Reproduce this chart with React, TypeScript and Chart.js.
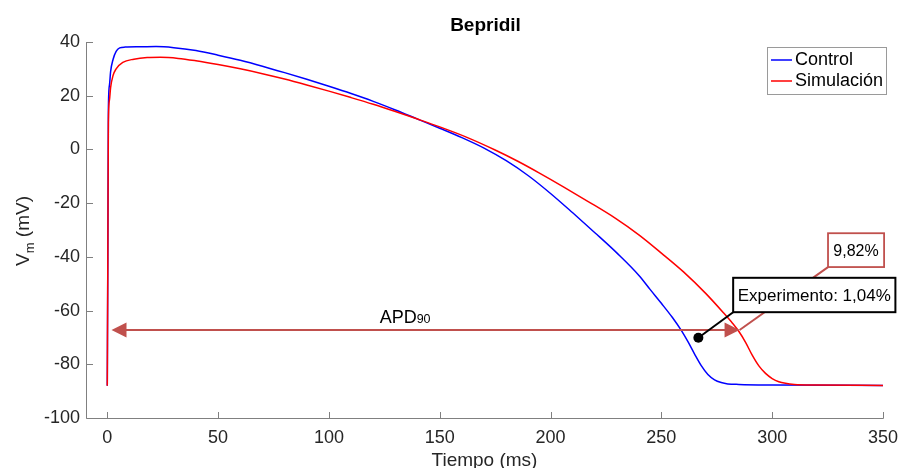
import React, { useEffect, useRef } from 'react';
import { Chart, registerables } from 'chart.js';

Chart.register(...registerables);

// ---------- data ----------
const chartTitle = 'Bepridil';
const seriesLabels = ['Control', 'Simulación'];
const xAxisTitle = 'Tiempo (ms)';

const controlTime = [0, 0.25, 0.5, 1, 1.5, 2.6, 4, 5.6, 8, 15, 22, 30, 40, 50, 60, 70, 80, 90, 100, 110, 120, 130, 140, 150, 160, 170, 180, 190, 200, 210, 220, 230, 240, 245, 250, 255, 259, 262, 265, 268, 271, 274, 277, 280, 285, 300, 350];
const controlV = [-88, -40, 15, 24, 29, 33.5, 36.5, 37.8, 38.1, 38.2, 38.3, 37.9, 36.8, 35.1, 33.2, 31.0, 28.6, 26.1, 23.5, 20.8, 17.9, 14.7, 11.3, 7.9, 4.4, 0.5, -4.2, -9.8, -16.4, -23.6, -31.0, -38.6, -47.0, -52.2, -57.3, -62.6, -67.4, -71.6, -76.2, -80.5, -83.8, -85.8, -86.8, -87.3, -87.5, -87.7, -87.9];

const simTime = [0, 0.25, 0.5, 1, 1.5, 2.6, 4, 7, 12, 18, 24, 32, 40, 50, 60, 70, 80, 90, 100, 110, 120, 130, 140, 150, 162, 175, 185, 195, 206, 217, 229, 240, 250, 260, 270, 278, 282, 285, 288, 291, 294, 297, 300, 303, 306, 310, 320, 350];
const simV = [-88, -40, 10, 18.5, 23, 27.5, 30, 32.4, 33.6, 34.2, 34.3, 33.9, 33.0, 31.6, 30.0, 28.2, 26.2, 24.0, 21.7, 19.3, 16.8, 14.1, 11.3, 8.4, 4.6, -0.2, -4.3, -8.8, -14.0, -19.4, -25.5, -31.9, -38.6, -45.6, -53.6, -60.8, -64.6, -67.8, -71.8, -76.6, -80.6, -83.4, -85.3, -86.5, -87.1, -87.5, -87.7, -87.9];

const xTicks = [0, 50, 100, 150, 200, 250, 300, 350];
const yTicks = [-100, -80, -60, -40, -20, 0, 20, 40];

// annotation values (data coordinates)
const apdLevel = -67.4;
const apdStart = 1.9;
const apdEnd = 285.3;
const apdLabelMain = 'APD';
const apdLabelSub = '90';
const apdLabelT = 122.9;
const expPointT = 266.7;
const expPointV = -70.1;
const simPctText = '9,82%';
const expText = 'Experimento: 1,04%';
// boxes: [tLeft, tRight, vTop, vBottom]
const simBox = [325.2, 350.5, -31.2, -43.8];
const expBox = [282.4, 355.6, -47.8, -60.6];

const FONT = '"Liberation Sans", Arial, Helvetica, sans-serif';
const BOX_FONT = '"Liberation Sans", Arial, sans-serif';
const ARROW_COLOR = '#c0504d';

const overlayPlugin = {
  id: 'overlay',
  afterDraw(chart: any) {
    const ctx = chart.ctx as CanvasRenderingContext2D;
    const area = chart.chartArea;
    const xs = chart.scales.x;
    const ys = chart.scales.y;
    const px = (t: number) => xs.getPixelForValue(t);
    const py = (v: number) => ys.getPixelForValue(v);

    ctx.save();
    // axes lines
    const L = Math.round(area.left) + 0.5;
    const B = Math.round(area.bottom) + 0.5;
    ctx.strokeStyle = '#808080';
    ctx.lineWidth = 1;
    ctx.beginPath();
    ctx.moveTo(L, Math.round(area.top));
    ctx.lineTo(L, B);
    ctx.lineTo(Math.round(area.right) + 0.5, B);
    ctx.stroke();
    // inward ticks
    ctx.beginPath();
    xTicks.forEach((t) => {
      const x = Math.round(px(t)) + 0.5;
      ctx.moveTo(x, B);
      ctx.lineTo(x, B - 6.5);
    });
    yTicks.forEach((v) => {
      const y = Math.round(py(v)) + 0.5;
      ctx.moveTo(L, y);
      ctx.lineTo(L + 6.5, y);
    });
    ctx.stroke();

    const cx = (area.left + area.right) / 2;
    // title
    ctx.fillStyle = '#000';
    ctx.font = `bold 19px ${FONT}`;
    ctx.textAlign = 'center';
    ctx.textBaseline = 'alphabetic';
    ctx.fillText(chartTitle, cx + 1, 30.5);

    // x axis title
    ctx.fillStyle = '#262626';
    ctx.font = `19px ${FONT}`;
    ctx.fillText(xAxisTitle, cx, 465.5);

    // y axis title with subscript
    ctx.save();
    ctx.translate(29, 231);
    ctx.rotate(-Math.PI / 2);
    ctx.textAlign = 'left';
    const big = `19px ${FONT}`;
    const small = `13px ${FONT}`;
    ctx.font = big;
    const wV = ctx.measureText('V').width;
    const wRest = ctx.measureText(' (mV)').width;
    ctx.font = small;
    const wm = ctx.measureText('m').width;
    const total = wV + wm + wRest;
    let xx = -total / 2;
    ctx.font = big;
    ctx.fillText('V', xx, 0);
    xx += wV;
    ctx.font = small;
    ctx.fillText('m', xx, 5);
    xx += wm;
    ctx.font = big;
    ctx.fillText(' (mV)', xx, 0);
    ctx.restore();

    // legend
    ctx.fillStyle = '#ffffff';
    ctx.fillRect(767.5, 47.5, 119, 47);
    ctx.strokeStyle = '#9a9a9a';
    ctx.lineWidth = 1;
    ctx.strokeRect(767.5, 47.5, 119, 47);
    const legendColors = ['#0000ff', '#ff0000'];
    const legendY = [60, 81];
    seriesLabels.forEach((lab, i) => {
      ctx.strokeStyle = legendColors[i];
      ctx.lineWidth = 1.5;
      ctx.beginPath();
      ctx.moveTo(771, legendY[i]);
      ctx.lineTo(792, legendY[i]);
      ctx.stroke();
      ctx.fillStyle = '#000';
      ctx.font = `18px ${FONT}`;
      ctx.textAlign = 'left';
      ctx.textBaseline = 'middle';
      ctx.fillText(lab, 795, legendY[i] + 0.5);
    });

    // APD arrow
    const ay = Math.round(py(apdLevel));
    const x0 = px(apdStart);
    const x1 = px(apdEnd);
    const headL = 15;
    const headH = 7.5;
    ctx.strokeStyle = ARROW_COLOR;
    ctx.fillStyle = ARROW_COLOR;
    ctx.lineWidth = 2;
    ctx.beginPath();
    ctx.moveTo(x0 + headL - 1, ay);
    ctx.lineTo(x1 - headL + 1, ay);
    ctx.stroke();
    ctx.beginPath();
    ctx.moveTo(x0, ay);
    ctx.lineTo(x0 + headL, ay - headH);
    ctx.lineTo(x0 + headL, ay + headH);
    ctx.closePath();
    ctx.fill();
    ctx.beginPath();
    ctx.moveTo(x1, ay);
    ctx.lineTo(x1 - headL, ay - headH);
    ctx.lineTo(x1 - headL, ay + headH);
    ctx.closePath();
    ctx.fill();

    // APD label
    ctx.fillStyle = '#000';
    ctx.textAlign = 'left';
    ctx.textBaseline = 'alphabetic';
    ctx.font = `18px ${FONT}`;
    const lx = px(apdLabelT);
    ctx.fillText(apdLabelMain, lx, ay - 7.5);
    const wA = ctx.measureText(apdLabelMain).width;
    ctx.font = `12.5px ${FONT}`;
    ctx.fillText(apdLabelSub, lx + wA, ay - 7);

    // 9,82% box + connector
    const sb = { l: px(simBox[0]), r: px(simBox[1]), t: py(simBox[2]), b: py(simBox[3]) };
    ctx.strokeStyle = ARROW_COLOR;
    ctx.lineWidth = 2;
    ctx.beginPath();
    ctx.moveTo(sb.l, sb.b);
    ctx.lineTo(x1, ay);
    ctx.stroke();
    ctx.fillStyle = '#fff';
    ctx.fillRect(sb.l, sb.t, sb.r - sb.l, sb.b - sb.t);
    ctx.lineWidth = 1.8;
    ctx.strokeRect(sb.l, sb.t, sb.r - sb.l, sb.b - sb.t);
    ctx.fillStyle = '#000';
    ctx.font = `16px ${BOX_FONT}`;
    ctx.textAlign = 'center';
    ctx.textBaseline = 'middle';
    ctx.fillText(simPctText, (sb.l + sb.r) / 2, (sb.t + sb.b) / 2 + 1);

    // Experimento box + connector + dot
    const eb = { l: px(expBox[0]), r: px(expBox[1]), t: py(expBox[2]), b: py(expBox[3]) };
    const dx = px(expPointT);
    const dy = py(expPointV);
    ctx.strokeStyle = '#000';
    ctx.lineWidth = 2;
    ctx.beginPath();
    ctx.moveTo(eb.l, eb.b);
    ctx.lineTo(dx, dy);
    ctx.stroke();
    ctx.fillStyle = '#000';
    ctx.beginPath();
    ctx.arc(dx, dy, 5, 0, Math.PI * 2);
    ctx.fill();
    ctx.fillStyle = '#fff';
    ctx.fillRect(eb.l, eb.t, eb.r - eb.l, eb.b - eb.t);
    ctx.strokeStyle = '#000';
    ctx.lineWidth = 2;
    ctx.strokeRect(eb.l, eb.t, eb.r - eb.l, eb.b - eb.t);
    ctx.fillStyle = '#000';
    ctx.font = `17px ${BOX_FONT}`;
    ctx.textAlign = 'center';
    ctx.textBaseline = 'middle';
    ctx.fillText(expText, (eb.l + eb.r) / 2, (eb.t + eb.b) / 2 + 1);

    ctx.restore();
  },
};

export default function App() {
  const canvasRef = useRef<HTMLCanvasElement | null>(null);

  useEffect(() => {
    document.body.style.margin = '0';
    const canvas = canvasRef.current;
    if (!canvas) return;
    const chart = new Chart(canvas, {
      type: 'line',
      data: {
        datasets: [
          {
            label: seriesLabels[0],
            data: controlTime.map((t, i) => ({ x: t, y: controlV[i] })),
            borderColor: '#0000ff',
            borderWidth: 1.5,
            pointRadius: 0,
            cubicInterpolationMode: 'monotone',
            fill: false,
            order: 1,
          },
          {
            label: seriesLabels[1],
            data: simTime.map((t, i) => ({ x: t, y: simV[i] })),
            borderColor: '#ff0000',
            borderWidth: 1.5,
            pointRadius: 0,
            cubicInterpolationMode: 'monotone',
            fill: false,
            order: 0,
          },
        ],
      },
      options: {
        animation: false,
        responsive: false,
        devicePixelRatio: 1,
        layout: { padding: { top: 42, right: 15, left: 0, bottom: 0 } },
        plugins: {
          legend: { display: false },
          title: { display: false },
          tooltip: { enabled: false },
        },
        scales: {
          x: {
            type: 'linear',
            min: -9.6,
            max: 350,
            grid: { display: false, drawTicks: false },
            border: { display: false },
            afterFit: (s: any) => {
              s.height = 50;
            },
            afterBuildTicks: (s: any) => {
              s.ticks = xTicks.map((v) => ({ value: v }));
            },
            ticks: {
              font: { family: FONT, size: 18 },
              color: '#262626',
              padding: 9,
              maxRotation: 0,
              autoSkip: false,
            },
          },
          y: {
            type: 'linear',
            min: -100,
            max: 40,
            grid: { display: false, drawTicks: false },
            border: { display: false },
            afterFit: (s: any) => {
              s.width = 86;
            },
            afterBuildTicks: (s: any) => {
              s.ticks = yTicks.map((v) => ({ value: v }));
            },
            ticks: {
              font: { family: FONT, size: 18 },
              color: '#262626',
              padding: 6,
              autoSkip: false,
            },
          },
        },
      },
      plugins: [overlayPlugin],
    } as any);
    return () => {
      chart.destroy();
    };
  }, []);

  return (
    <div style={{ width: 907, height: 468, background: '#fff' }}>
      <canvas ref={canvasRef} width={907} height={468} style={{ display: 'block' }} />
    </div>
  );
}
